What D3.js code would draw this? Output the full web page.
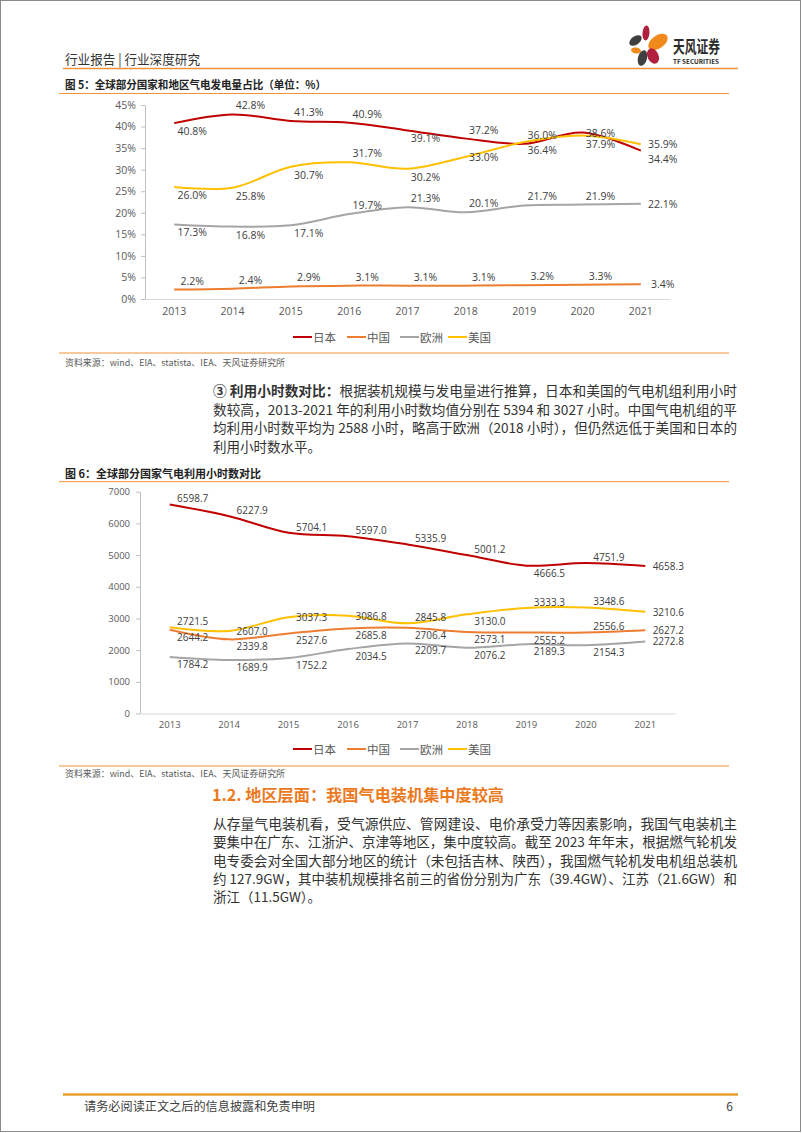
<!DOCTYPE html>
<html>
<head>
<meta charset="utf-8">
<script src="https://cdn.jsdelivr.net/npm/d3@7"></script>
<style>
  body { margin: 0; background: #fff; }
  svg { display: block; }
  text { font-family: "Noto Sans CJK SC", "Noto Sans", sans-serif; }
</style>
</head>
<body>
<div id="page"></div>
<script>
// ---- data ----
var years = ["2013", "2014", "2015", "2016", "2017", "2018", "2019", "2020", "2021"];
var seriesNames = ["日本", "中国", "欧洲", "美国"];

// fig 5: share of gas power in generation (%)
var shareJapan  = [40.8, 42.8, 41.3, 40.9, 39.1, 37.2, 36.0, 38.6, 34.4];
var shareChina  = [2.2, 2.4, 2.9, 3.1, 3.1, 3.1, 3.2, 3.3, 3.4];
var shareEurope = [17.3, 16.8, 17.1, 19.7, 21.3, 20.1, 21.7, 21.9, 22.1];
var shareUS     = [26.0, 25.8, 30.7, 31.7, 30.2, 33.0, 36.4, 37.9, 35.9];
var shareTicks  = [0, 5, 10, 15, 20, 25, 30, 35, 40, 45];

// fig 6: utilisation hours
var hoursJapan  = [6598.7, 6227.9, 5704.1, 5597.0, 5335.9, 5001.2, 4666.5, 4751.9, 4658.3];
var hoursChina  = [2644.2, 2339.8, 2527.6, 2685.8, 2706.4, 2573.1, 2555.2, 2556.6, 2627.2];
var hoursEurope = [1784.2, 1689.9, 1752.2, 2034.5, 2209.7, 2076.2, 2189.3, 2154.3, 2272.8];
var hoursUS     = [2721.5, 2607.0, 3037.3, 3086.8, 2845.8, 3130.0, 3333.3, 3348.6, 3210.6];
var hoursTicks  = [0, 1000, 2000, 3000, 4000, 5000, 6000, 7000];

// where each data label sits: a = above, b = below, c = on the line, r = right
var sharePlace  = ["baaabaacb", "aaaaaaaar", "bbbaaaaar", "bbbabcbbr"];
var hoursPlace  = ["aaaaaabar", "bbbbbbbar", "bbbbbbbbr", "acccabaar"];

var colors = ["#C00000", "#ED7D31", "#A5A5A5", "#FFC000"];
var orange = "#F0923A";

var svg = d3.select("#page").append("svg")
  .attr("width", 802)
  .attr("height", 1133);

// page frame
svg.append("rect")
  .attr("x", 0.5).attr("y", 0.5)
  .attr("width", 800).attr("height", 1131)
  .attr("fill", "#fff").attr("stroke", "#8a8a8a");

function txt(x, y, s, size, color, opts) {
  opts = opts || {};
  var t = svg.append("text")
    .attr("x", x).attr("y", y)
    .attr("dominant-baseline", "central")
    .attr("font-size", size)
    .attr("fill", color)
    .text(s);
  if (opts.weight) t.attr("font-weight", opts.weight);
  if (opts.len) t.attr("textLength", opts.len).attr("lengthAdjust", "spacingAndGlyphs");
  if (opts.anchor) t.attr("text-anchor", opts.anchor);
  return t;
}

function hline(x1, x2, y, color, w) {
  svg.append("line")
    .attr("x1", x1).attr("x2", x2).attr("y1", y).attr("y2", y)
    .attr("stroke", color).attr("stroke-width", w);
}

// ---- header ----
txt(65, 58, "行业报告 | 行业深度研究", 13, "#333", {len: 135});
hline(63, 738, 68.5, orange, 1.6);

// logo
var logo = svg.append("g");
var petals = [
  {x: 646, y: 33, rx: 3.5, ry: 7.5, r: 5, c: "#B0203F"},
  {x: 635.5, y: 40.5, rx: 7, ry: 4.2, r: -35, c: "#3f3f3f"},
  {x: 658, y: 42, rx: 11, ry: 6.5, r: -35, c: "#F08A1C"},
  {x: 636, y: 50.5, rx: 5, ry: 3, r: 10, c: "#F08A1C"},
  {x: 653, y: 56, rx: 5.5, ry: 8, r: -25, c: "#B0203F"},
  {x: 642.5, y: 58, rx: 4.5, ry: 8, r: 15, c: "#3f3f3f"}
];
logo.selectAll("ellipse")
  .data(petals)
  .enter()
  .append("ellipse")
  .attr("transform", d => `translate(${d.x},${d.y}) rotate(${d.r})`)
  .attr("rx", d => d.rx)
  .attr("ry", d => d.ry)
  .attr("fill", d => d.c);
txt(673, 45.5, "天风证券", 16.5, "#2b2b2b", {weight: "bold", len: 47});
txt(673, 61, "TF SECURITIES", 6.5, "#2b2b2b", {weight: "bold", len: 46});

// ---- chart drawer ----
function drawChart(cfg) {
  var xb = d3.scaleBand()
    .domain(years)
    .range([cfg.left, cfg.right]);
  var y = d3.scaleLinear()
    .domain([0, cfg.max])
    .range([cfg.bottom, cfg.top]);
  var cx = d => xb(d) + xb.bandwidth() / 2;

  var g = svg.append("g");

  // y axis
  var yAxis = g.append("g")
    .attr("transform", `translate(${cfg.left}, 0)`)
    .call(d3.axisLeft(y).tickValues(cfg.ticks).tickFormat(cfg.tickFmt)
      .tickSize(4).tickSizeOuter(0).tickPadding(cfg.yPad));
  yAxis.select(".domain").attr("stroke", "#BFBFBF");
  yAxis.selectAll(".tick line").attr("stroke", "#BFBFBF");
  yAxis.selectAll(".tick text")
    .attr("fill", "#595959")
    .style("font-family", "'Open Sans', sans-serif")
    .attr("font-size", cfg.tickSize);

  // x axis
  var xAxis = g.append("g")
    .attr("transform", `translate(0, ${cfg.bottom})`)
    .call(d3.axisBottom(xb).tickSize(0).tickPadding(cfg.xPad));
  xAxis.select(".domain").attr("stroke", "#D9D9D9").attr("stroke-width", 1.2);
  xAxis.selectAll(".tick text")
    .attr("fill", "#595959")
    .style("font-family", "'Open Sans', sans-serif")
    .attr("font-size", cfg.tickSize);

  var line = d3.line()
    .x((d, i) => cx(years[i]))
    .y(d => y(d))
    .curve(d3.curveCatmullRom.alpha(0.5));

  cfg.series.forEach(function(vals, k) {
    g.append("path")
      .datum(vals)
      .attr("d", line)
      .attr("fill", "none")
      .attr("stroke", colors[k])
      .attr("stroke-width", 2);
  });

  // data labels
  cfg.series.forEach(function(vals, k) {
    g.selectAll(null)
      .data(vals)
      .enter()
      .append("text")
      .attr("x", (d, i) => cx(years[i]) + (i === years.length - 1 ? cfg.dxLast : cfg.dx))
      .attr("y", (d, i) => y(d) + cfg.offsets[cfg.place[k][i]])
      .attr("text-anchor", "middle")
      .attr("dominant-baseline", "central")
      .attr("font-size", cfg.labelSize)
      .style("font-family", "'Open Sans', sans-serif")
      .attr("fill", "#404040")
      .text(cfg.labelFmt);
  });

  // legend
  var legendX = [293, 347, 400, 448];
  var lg = g.selectAll(".lg")
    .data(seriesNames)
    .enter()
    .append("g")
    .attr("transform", (d, i) => `translate(${legendX[i]}, ${cfg.legendY})`);
  lg.append("line")
    .attr("x1", 0).attr("x2", 19)
    .attr("stroke", (d, i) => colors[i])
    .attr("stroke-width", 2);
  lg.append("text")
    .attr("x", 20)
    .attr("dominant-baseline", "central")
    .attr("font-size", 11.5)
    .attr("fill", "#595959")
    .text(d => d);
}

// ---- figure 5 ----
txt(65, 83.5, "图 5：全球部分国家和地区气电发电量占比（单位：%）", 11, "#222", {weight: "bold", len: 261});
hline(59, 729, 93.5, orange, 1);

drawChart({
  left: 145, right: 670, top: 105, bottom: 299, max: 45,
  ticks: shareTicks, tickFmt: d => d + "%",
  yPad: 5, xPad: 9, tickSize: 10.5,
  series: [shareJapan, shareChina, shareEurope, shareUS],
  place: sharePlace,
  offsets: {a: -9, b: 8, c: 0, r: 0},
  dx: 18, dxLast: 22,
  labelSize: 10.5,
  labelFmt: d => d.toFixed(1) + "%",
  legendY: 337
});

hline(59, 729, 353, orange, 1);
txt(65, 362, "资料来源：wind、EIA、statista、IEA、天风证券研究所", 9, "#595959", {len: 220});

// ---- paragraph ----
var p1 = svg.append("text")
  .attr("x", 213).attr("y", 390)
  .attr("dominant-baseline", "central")
  .attr("font-size", 13.5)
  .attr("fill", "#333")
  .attr("textLength", 524)
  .attr("lengthAdjust", "spacingAndGlyphs");
p1.append("tspan").attr("font-weight", "bold").text("③ 利用小时数对比：");
p1.append("tspan").text("根据装机规模与发电量进行推算，日本和美国的气电机组利用小时");
txt(213, 408.7, "数较高，2013-2021 年的利用小时数均值分别在 5394 和 3027 小时。中国气电机组的平", 13.5, "#333", {len: 524});
txt(213, 427.3, "均利用小时数平均为 2588 小时，略高于欧洲（2018 小时），但仍然远低于美国和日本的", 13.5, "#333", {len: 524});
txt(213, 446, "利用小时数水平。", 13.5, "#333");

// ---- figure 6 ----
txt(65, 472.5, "图 6：全球部分国家气电利用小时数对比", 11, "#222", {weight: "bold", len: 196});
hline(59, 729, 481.7, orange, 1);

drawChart({
  left: 140, right: 675, top: 491.7, bottom: 713.5, max: 7000,
  ticks: hoursTicks, tickFmt: d3.format("d"),
  yPad: 6, xPad: 8, tickSize: 9.5,
  series: [hoursJapan, hoursChina, hoursEurope, hoursUS],
  place: hoursPlace,
  offsets: {a: -6, b: 7, c: 0, r: 0},
  dx: 23, dxLast: 23,
  labelSize: 10,
  labelFmt: d => d.toFixed(1),
  legendY: 749
});

hline(59, 729, 766, orange, 1);
txt(65, 773.5, "资料来源：wind、EIA、statista、IEA、天风证券研究所", 9, "#595959", {len: 220});

// ---- section 1.2 ----
txt(212, 793.5, "1.2. 地区层面：我国气电装机集中度较高", 16, "#EB7A1E", {weight: "bold", len: 292});
var p2 = [
  "从存量气电装机看，受气源供应、管网建设、电价承受力等因素影响，我国气电装机主",
  "要集中在广东、江浙沪、京津等地区，集中度较高。截至 2023 年年末，根据燃气轮机发",
  "电专委会对全国大部分地区的统计（未包括吉林、陕西），我国燃气轮机发电机组总装机",
  "约 127.9GW，其中装机规模排名前三的省份分别为广东（39.4GW）、江苏（21.6GW）和",
  "浙江（11.5GW）。"
];
p2.forEach(function(s, i) {
  txt(213, 822.7 + i * 18.4, s, 13.5, "#333", i < p2.length - 1 ? {len: 524} : {});
});

// ---- footer ----
hline(63, 738, 1094.5, "#E8A030", 2.5);
txt(84, 1105, "请务必阅读正文之后的信息披露和免责申明", 12, "#404040", {len: 231});
txt(733, 1105, "6", 12, "#404040", {anchor: "end"});
</script>
</body>
</html>
